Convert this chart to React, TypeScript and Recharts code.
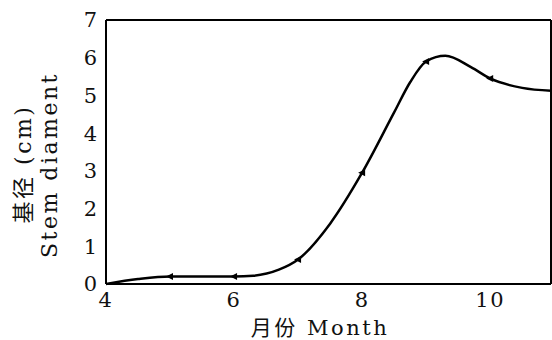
import { Line, LineChart, ReferenceLine, XAxis, YAxis } from 'recharts'

// curve (month, stem diameter cm)
const months = [4, 4.5, 5, 6, 6.3, 6.7, 7, 7.5, 8, 8.5, 8.75, 9, 9.3, 9.7, 10, 10.5, 11]
const diameter = [0, 0.13, 0.2, 0.2, 0.22, 0.38, 0.65, 1.6, 2.95, 4.55, 5.35, 5.9, 6.05, 5.75, 5.45, 5.2, 5.12]
// months that carry a marker
const markedMonths = [5, 6, 7, 8, 9, 10]
const xTicks = [4, 6, 8, 10]
const yTicks = [0, 1, 2, 3, 4, 5, 6, 7]

const data = months.map((m, i) => ({ month: m, d: diameter[i] }))

const font = '"DejaVu Serif", "Noto Sans CJK SC", serif'

function Marker(props: any) {
  const { cx, cy, payload, index } = props
  if (!markedMonths.includes(payload.month)) return <g key={index} />
  return (
    <path
      key={index}
      d={`M${cx - 4},${cy} L${cx + 3},${cy - 3.5} L${cx + 3},${cy + 3.5} Z`}
      fill="#000"
    />
  )
}

function YLabel() {
  return (
    <g fontFamily={font} fontSize={22} fill="#111" letterSpacing={2.5}>
      <text x={31} y={164} textAnchor="middle" transform="rotate(-90 31 164)">
        基径 (cm)
      </text>
      <text x={57} y={165} textAnchor="middle" transform="rotate(-90 57 165)">
        Stem diament
      </text>
    </g>
  )
}

function XLabel() {
  return (
    <text x={320} y={335} textAnchor="middle" fontFamily={font} fontSize={21} fill="#111" letterSpacing={2.5}>
      月份 Month
    </text>
  )
}

export default function App() {
  return (
    <div style={{ position: 'absolute', left: 0, top: 0, background: '#fff' }}>
      <LineChart width={552} height={340} data={data} margin={{ top: 20, right: 1, bottom: 0, left: 0 }}>
        <XAxis
          dataKey="month"
          type="number"
          domain={[4, 10.95]}
          allowDataOverflow
          ticks={xTicks}
          tickSize={0}
          tickMargin={8}
          height={56}
          axisLine={{ stroke: '#000', strokeWidth: 2 }}
          tick={{ fill: '#111', fontSize: 21, fontFamily: font, letterSpacing: 1.5 }}
          label={{ content: () => <XLabel /> }}
        />
        <YAxis
          type="number"
          domain={[0, 7]}
          ticks={yTicks}
          tickSize={0}
          tickMargin={9}
          width={106}
          axisLine={{ stroke: '#000', strokeWidth: 2 }}
          tick={{ fill: '#111', fontSize: 21, fontFamily: font }}
          label={{ content: () => <YLabel /> }}
        />
        <ReferenceLine y={7} stroke="#000" strokeWidth={2} />
        <ReferenceLine x={10.95} stroke="#000" strokeWidth={2} />
        <Line
          type="monotone"
          dataKey="d"
          stroke="#000"
          strokeWidth={2.5}
          dot={Marker}
          activeDot={false}
          isAnimationActive={false}
        />
      </LineChart>
    </div>
  )
}
